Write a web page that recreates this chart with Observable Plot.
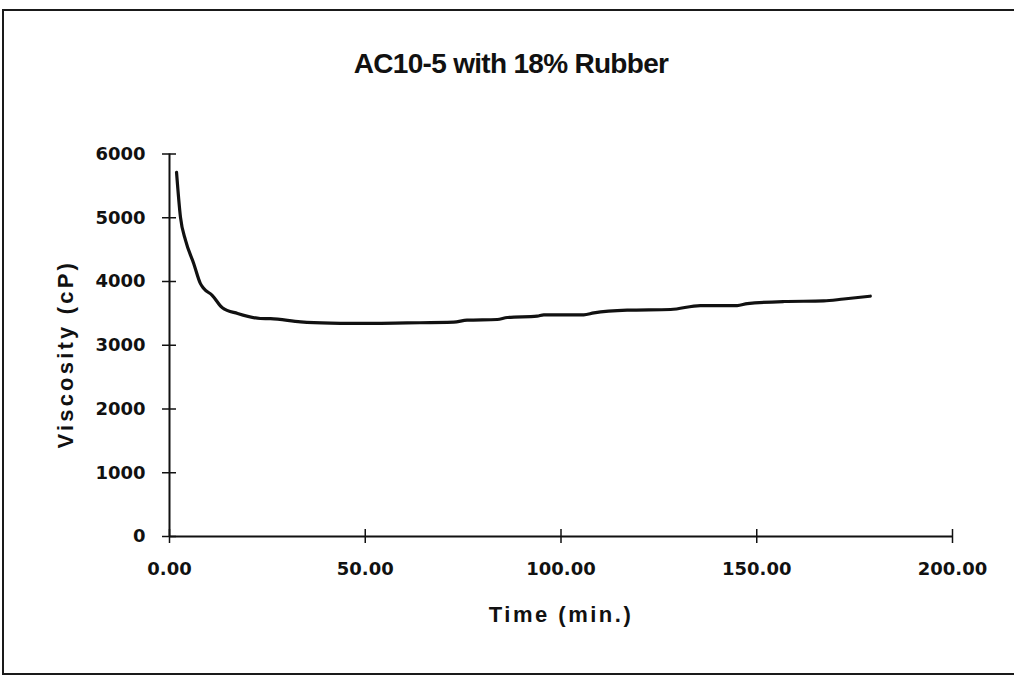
<!DOCTYPE html>
<html>
<head>
<meta charset="utf-8">
<script src="https://cdn.jsdelivr.net/npm/d3@7"></script>
<script src="https://cdn.jsdelivr.net/npm/@observablehq/plot@0.6"></script>
<style>
  html, body { margin: 0; padding: 0; background: #fff; }
  #wrap { position: relative; width: 1014px; height: 677px; overflow: hidden; background: #fff; }
  #frame { position: absolute; left: 2px; top: 9px; width: 1040px; height: 666px; border: 2px solid #1a1a1a; box-sizing: border-box; pointer-events: none; }
  #title { height: 100px; box-sizing: border-box; padding-top: 50px; padding-left: 8px; text-align: center;
           font: bold 28px "Liberation Sans", Arial, sans-serif; line-height: 1; letter-spacing: -0.7px; color: #111; }
</style>
</head>
<body>
<div id="wrap">
  <div id="frame"></div>
  <div id="title">AC10-5 with 18% Rubber</div>
  <div id="chart"></div>
</div>
<script>
// Time (min.)
const time = [1.8, 2.8, 4.1, 6.2, 7.9, 8.7, 10.9, 13.5, 17.4, 23.2, 25.8, 33.5, 41.1, 46.2,
              60.7, 72.6, 76.0, 83.7, 86.3, 93.9, 95.6, 105.8, 108.4, 116.9, 128.0,
              135.6, 145.0, 147.6, 156.9, 167.1, 172.2, 179.0];
// Viscosity (cP)
const viscosity = [5712, 5009, 4644, 4280, 3967, 3894, 3784, 3588, 3498, 3420, 3417, 3367, 3346, 3342,
                   3351, 3362, 3393, 3404, 3435, 3456, 3476, 3476, 3507, 3550, 3561,
                   3623, 3623, 3654, 3686, 3695, 3726, 3769];
const xTicks = [0, 50, 100, 150, 200];
const yTicks = [0, 1000, 2000, 3000, 4000, 5000, 6000];
const titleText = "AC10-5 with 18% Rubber";
const xLabel = "Time (min.)";
const yLabel = "Viscosity (cP)";

document.getElementById("title").textContent = titleText;

const data = time.map((t, i) => ({time: t, viscosity: viscosity[i]}));
const tickFont = {fontSize: 18, fontFamily: "DejaVu Sans", fontWeight: "bold"};

const chart = Plot.plot({
  width: 1014,
  height: 577,
  marginLeft: 169,
  marginRight: 62,
  marginTop: 53.5,
  marginBottom: 141,
  style: {background: "transparent", color: "#111", overflow: "visible"},
  x: {domain: [0, 200]},
  y: {domain: [0, 6000]},
  marks: [
    Plot.ruleX([0], {stroke: "#111", strokeWidth: 2}),
    Plot.ruleY([0], {stroke: "#111", strokeWidth: 2}),
    Plot.axisX(xTicks, {tickSize: 14, dy: -7, tickFormat: () => "", label: null, strokeWidth: 1.5}),
    Plot.axisX(xTicks, {tickSize: 0, tickPadding: 26, tickFormat: d => d.toFixed(2), label: null, ...tickFont}),
    Plot.axisY(yTicks, {tickSize: 14, dx: 7, tickFormat: () => "", label: null, strokeWidth: 1.5}),
    Plot.axisY(yTicks, {tickSize: 0, tickPadding: 24, tickFormat: d => String(d), label: null, ...tickFont}),
    Plot.text([xLabel], {frameAnchor: "bottom", textAnchor: "middle", lineAnchor: "middle", dy: 78,
                         fontSize: 22, fontWeight: "bold", fontFamily: "Liberation Sans", fill: "#111"}),
    Plot.text([yLabel], {frameAnchor: "left", textAnchor: "middle", lineAnchor: "middle", dx: -104, dy: 9, rotate: -90,
                         fontSize: 22, fontWeight: "bold", fontFamily: "Liberation Sans", fill: "#111"}),
    Plot.line(data, {x: "time", y: "viscosity", stroke: "#111", strokeWidth: 3.2, curve: "monotone-x"})
  ]
});
d3.select(chart).selectAll("text")
  .filter(function() { return this.textContent === xLabel; })
  .style("letter-spacing", "2.5px");
d3.select(chart).selectAll("text")
  .filter(function() { return this.textContent === yLabel; })
  .style("letter-spacing", "3.2px");
document.getElementById("chart").appendChild(chart);
</script>
</body>
</html>
